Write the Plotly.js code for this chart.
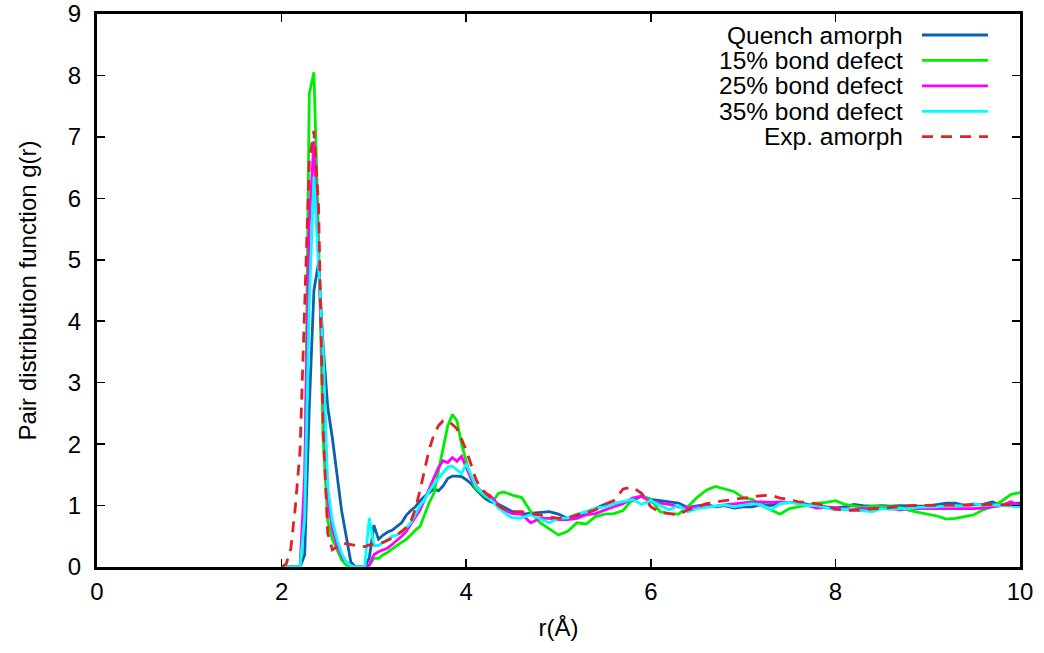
<!DOCTYPE html>
<html>
<head>
<meta charset="utf-8">
<script src="https://cdn.plot.ly/plotly-3.0.1.min.js"></script>
<style>html,body{margin:0;padding:0;background:#fff;}#chart{width:1044px;height:653px;}</style>
</head>
<body>
<div id="chart"></div>
<script>
// r grid (Å)
const r = [
  2.00,2.05,2.10,2.15,2.20, 2.25,2.30,2.35,2.40,2.45,
  2.50,2.55,2.60,2.65,2.70, 2.75,2.80,2.85,2.90,2.95,
  3.00,3.05,3.10,3.15,3.20, 3.25,3.30,3.35,3.40,3.45,
  3.50,3.55,3.60,3.65,3.70, 3.75,3.80,3.85,3.90,3.95,
  4.00,4.05,4.10,4.15,4.20, 4.25,4.30,4.35,4.40,4.45,
  4.50,
  4.6,4.7,4.8,4.9,5.0, 5.1,5.2,5.3,5.4,5.5,
  5.6,5.7,5.8,5.9,6.0, 6.1,6.2,6.3,6.4,6.5,
  6.6,6.7,6.8,6.9,7.0, 7.1,7.2,7.3,7.4,7.5,
  7.6,7.7,7.8,7.9,8.0, 8.1,8.2,8.3,8.4,8.5,
  8.6,8.7,8.8,8.9,9.0, 9.1,9.2,9.3,9.4,9.5,
  9.6,9.7,9.8,9.9,10.0
];

const quench = [
  0,0,0,0,0, 0.2,2.6,4.5,4.95,3.6,
  2.6,2.1,1.5,0.92,0.5, 0.08,0,0,0,0.15,
  0.68,0.45,0.52,0.57,0.6, 0.66,0.72,0.84,0.92,0.98,
  1.08,1.15,1.21,1.27,1.24, 1.32,1.44,1.48,1.48,1.47,
  1.42,1.36,1.27,1.2,1.12, 1.07,1.05,1.02,0.98,0.94,
  0.9,
  0.86,0.87,0.88,0.9,0.86, 0.79,0.82,0.9,0.95,1.02,
  1.03,1.05,1.08,1.15,1.1, 1.08,1.06,1.04,0.97,1.0,
  1.02,0.98,1.0,0.96,0.98, 0.98,1.02,1.0,1.04,1.05,
  1.05,1.02,1.01,0.98,0.96, 0.98,1.02,1.0,0.99,1.0,
  0.99,1.0,0.99,0.99,0.99, 1.02,1.04,1.04,1.0,1.01,
  1.02,1.06,1.0,1.03,1.04
];

const defect15 = [
  0,0,0,0,0, 1.0,7.7,8.05,5.4,2.1,
  0.75,0.45,0.27,0.12,0.03, 0,0,0,0,0.03,
  0.14,0.14,0.2,0.24,0.3, 0.35,0.4,0.45,0.52,0.6,
  0.66,0.87,1.05,1.2,1.55, 1.9,2.3,2.48,2.38,2.0,
  1.72,1.45,1.28,1.22,1.16, 1.12,1.09,1.2,1.22,1.2,
  1.17,
  1.13,0.9,0.72,0.62,0.52, 0.58,0.72,0.7,0.82,0.86,
  0.87,0.92,1.1,1.16,1.1, 0.9,0.87,0.86,0.98,1.13,
  1.25,1.31,1.27,1.23,1.13, 1.1,1.0,0.93,0.86,0.95,
  0.98,1.0,1.04,1.05,1.08, 1.02,0.99,0.97,0.99,0.99,
  0.98,0.97,0.92,0.89,0.86, 0.83,0.78,0.79,0.82,0.85,
  0.93,0.98,1.07,1.18,1.21
];

const defect25 = [
  0,0,0,0,0, 1.5,5.6,6.93,5.1,3.1,
  1.1,0.62,0.35,0.18,0.08, 0.02,0,0,0,0.03,
  0.2,0.25,0.28,0.31,0.37, 0.43,0.5,0.58,0.69,0.8,
  0.93,1.1,1.29,1.45,1.62, 1.73,1.7,1.78,1.72,1.8,
  1.62,1.45,1.33,1.25,1.19, 1.17,1.1,1.0,0.93,0.9,
  0.87,
  0.86,0.72,0.79,0.79,0.77, 0.77,0.79,0.85,0.87,0.93,
  0.98,1.03,1.12,1.15,1.06, 1.04,1.02,0.98,0.96,0.98,
  0.98,0.99,1.01,1.03,1.04, 1.06,1.06,1.05,1.06,1.05,
  1.04,1.0,0.96,0.97,0.96, 0.95,0.94,0.95,0.95,0.95,
  0.95,0.93,0.95,0.95,0.95, 0.95,0.95,0.94,0.95,0.95,
  0.96,0.98,1.0,1.06,1.0
];

const defect35 = [
  0,0,0,0,0, 0.8,4.3,6.35,5.0,3.5,
  1.3,0.75,0.45,0.22,0.08, 0.02,0,0,0,0.8,
  0.35,0.35,0.4,0.45,0.5, 0.52,0.57,0.64,0.72,0.86,
  1.0,1.1,1.24,1.35,1.45, 1.55,1.63,1.64,1.58,1.52,
  1.68,1.5,1.33,1.24,1.18, 1.12,1.05,0.96,0.9,0.84,
  0.8,
  0.8,0.85,0.78,0.72,0.79, 0.8,0.86,0.9,0.96,0.98,
  1.03,1.06,1.1,1.02,1.08, 1.0,0.93,1.0,0.9,0.95,
  0.97,0.98,1.01,0.98,1.0, 1.03,1.01,0.93,1.03,1.05,
  1.03,1.0,1.0,0.96,0.93, 0.94,0.93,0.92,0.9,0.95,
  0.94,0.95,0.95,0.97,0.97, 0.98,0.99,0.99,1.0,1.03,
  1.0,1.01,1.0,0.99,0.98
];

const expAmorph = [
  0,0.05,0.3,1.0,1.9, 4.3,6.6,7.1,5.9,2.2,
  0.55,0.28,0.33,0.38,0.38, 0.37,0.35,0.33,0.33,0.36,
  0.38,0.39,0.4,0.43,0.47, 0.52,0.58,0.64,0.74,0.95,
  1.25,1.6,1.92,2.15,2.3, 2.38,2.38,2.32,2.25,2.08,
  1.9,1.68,1.45,1.29,1.22, 1.16,1.08,1.0,0.95,0.92,
  0.9,
  0.9,0.87,0.85,0.82,0.79, 0.8,0.85,0.88,0.93,1.02,
  1.08,1.27,1.3,1.2,0.98, 0.89,0.87,0.85,0.93,0.97,
  1.03,1.06,1.08,1.1,1.12, 1.15,1.16,1.17,1.12,1.1,
  1.06,1.05,1.02,1.0,0.94, 0.92,0.92,0.93,0.95,0.96,
  0.97,0.98,1.0,1.0,1.01, 1.01,1.01,1.01,1.01,1.02,
  1.01,1.02,1.01,1.01,1.01
];

const seriesNames = ['Quench amorph', '15% bond defect', '25% bond defect', '35% bond defect', 'Exp. amorph'];
const seriesData = [quench, defect15, defect25, defect35, expAmorph];
const seriesColors = ['#0b61ac', '#00ee00', '#ff00ff', '#00ffff', '#e3202a'];
const seriesDash = ['solid', 'solid', 'solid', 'solid', '11px,8px'];

const traces = seriesData.map((g, i) => ({
  x: r, y: g, type: 'scatter', mode: 'lines', name: seriesNames[i],
  line: {color: seriesColors[i], width: 2.8, dash: seriesDash[i]}
}));

// legend drawn gnuplot-style (text right-justified, sample to the right)
const legendRowsY = [0.9620, 0.9160, 0.8700, 0.8240, 0.7781];
const annotations = seriesNames.map((n, i) => ({
  xref: 'paper', yref: 'paper', x: 0.8754, y: legendRowsY[i],
  xanchor: 'right', yanchor: 'middle', text: n, showarrow: false,
  font: {size: 24.5, color: '#000'}
}));
const shapes = seriesNames.map((n, i) => ({
  type: 'line', xref: 'paper', yref: 'paper',
  x0: 0.8938, x1: 0.9653, y0: legendRowsY[i], y1: legendRowsY[i],
  line: {color: seriesColors[i], width: 2.8, dash: seriesDash[i]}
}));

const layout = {
  width: 1044, height: 653,
  margin: {l: 97, r: 24, t: 14, b: 86, pad: 0},
  paper_bgcolor: '#fff', plot_bgcolor: '#fff',
  font: {family: 'Liberation Sans, Arial, sans-serif', size: 24, color: '#000'},
  showlegend: false,
  xaxis: {
    range: [0, 10], tick0: 0, dtick: 2, ticks: 'inside', ticklen: 8, tickwidth: 1.5,
    tickcolor: '#000', showline: true, linewidth: 3, linecolor: '#000', mirror: 'ticks',
    showgrid: false, zeroline: false, ticklabelstandoff: 1,
    title: {text: 'r(Å)', font: {size: 24}, standoff: 16}
  },
  yaxis: {
    range: [0, 9], tick0: 0, dtick: 1, ticks: 'inside', ticklen: 8, tickwidth: 1.5,
    tickcolor: '#000', showline: true, linewidth: 3, linecolor: '#000', mirror: 'ticks',
    showgrid: false, zeroline: false, ticklabelstandoff: 8,
    title: {text: 'Pair distribution function g(r)', font: {size: 24}, standoff: 25}
  },
  annotations: annotations,
  shapes: shapes
};

Plotly.newPlot('chart', traces, layout, {displayModeBar: false, staticPlot: true});
</script>
</body>
</html>
